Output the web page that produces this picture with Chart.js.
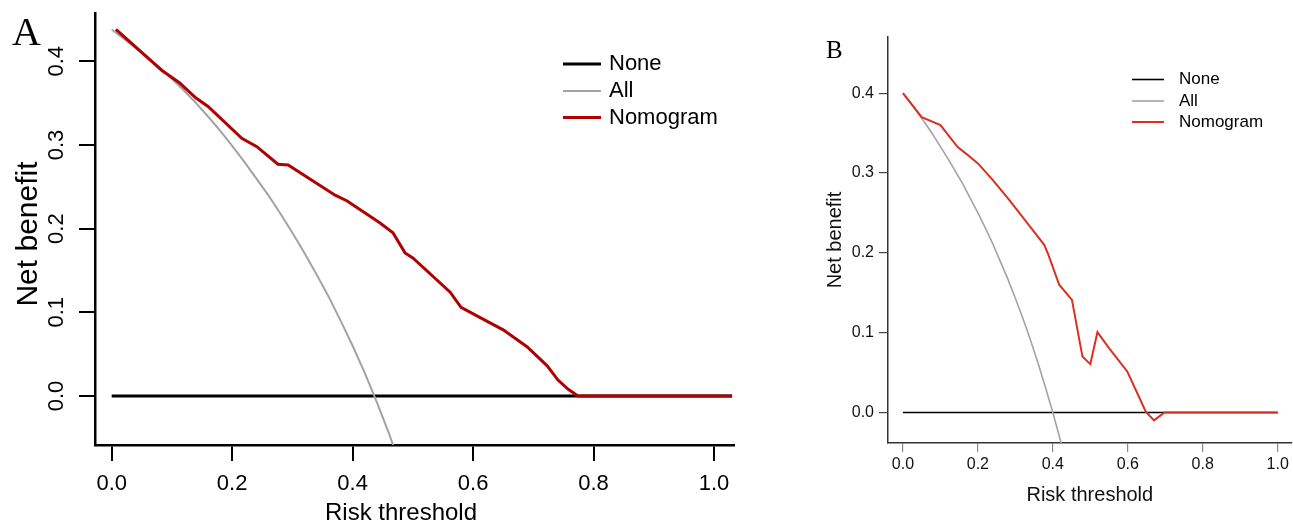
<!DOCTYPE html>
<html lang="en">
  <head>
    <meta charset="utf-8" />
    <script src="https://cdn.jsdelivr.net/npm/chart.js"></script>
    <title>Decision curves</title>
    <style>
      body { margin: 0; background: #fff; }
      canvas { position: absolute; top: 0; }
    </style>
  </head>
  <body>
    <canvas id="chartA" width="800" height="523" style="left:0"></canvas>
    <canvas id="chartB" width="493" height="523" style="left:800px"></canvas>
    <script>
      // tick labels and series names
      const xTicks = [0, 0.2, 0.4, 0.6, 0.8, 1.0];
      const xTickLabels = ['0.0', '0.2', '0.4', '0.6', '0.8', '1.0'];
      const yTicks = [0, 0.1, 0.2, 0.3, 0.4];
      const yTickLabels = ['0.0', '0.1', '0.2', '0.3', '0.4'];
      const seriesNames = ['None', 'All', 'Nomogram'];

      // panel A
      const noneAx = [0, 1.03];
      const noneAy = [0, 0];
      const allAx = [0, 0.02, 0.04, 0.06, 0.08, 0.10, 0.12, 0.14, 0.16, 0.18, 0.20, 0.22, 0.24,
                     0.26, 0.28, 0.30, 0.32, 0.34, 0.36, 0.38, 0.40, 0.42, 0.44, 0.46, 0.48];
      const allAy = [0.438, 0.427, 0.416, 0.404, 0.392, 0.379, 0.365, 0.350, 0.334, 0.317, 0.299, 0.280, 0.260,
                     0.240, 0.218, 0.195, 0.171, 0.1455, 0.119, 0.090, 0.060, 0.028, -0.007, -0.044, -0.085];
      const nomoAx = [0.007, 0.0835, 0.113, 0.140, 0.160, 0.216, 0.241, 0.276, 0.293, 0.371, 0.391, 0.445,
                      0.467, 0.487, 0.500, 0.562, 0.580, 0.611, 0.650, 0.690, 0.723, 0.741, 0.758, 0.774, 1.03];
      const nomoAy = [0.438, 0.389, 0.374, 0.356, 0.346, 0.308, 0.298, 0.277, 0.276, 0.240, 0.233, 0.207,
                      0.195, 0.171, 0.165, 0.124, 0.106, 0.094, 0.079, 0.0585, 0.036, 0.019, 0.008, 0, 0];

      // panel B
      const noneBx = [0, 1.0];
      const noneBy = [0, 0];
      const allBx = [0, 0.02, 0.04, 0.06, 0.08, 0.10, 0.12, 0.14, 0.16, 0.18, 0.20, 0.22,
                     0.24, 0.26, 0.28, 0.30, 0.32, 0.34, 0.36, 0.38, 0.40, 0.425];
      const allBy = [0.400, 0.388, 0.375, 0.362, 0.348, 0.333, 0.318, 0.302, 0.286, 0.268, 0.250, 0.231,
                     0.211, 0.189, 0.167, 0.143, 0.118, 0.091, 0.0625, 0.032, 0, -0.0435];
      const nomoBx = [0, 0.05, 0.10, 0.146, 0.169, 0.20, 0.24, 0.284, 0.347, 0.377, 0.387, 0.417,
                      0.451, 0.479, 0.50, 0.519, 0.55, 0.599, 0.648, 0.67, 0.698, 1.0];
      const nomoBy = [0.400, 0.370, 0.360, 0.3325, 0.324, 0.312, 0.291, 0.266, 0.228, 0.210, 0.199, 0.160,
                      0.141, 0.070, 0.0605, 0.1005, 0.0805, 0.051, 0.001, -0.010, 0, 0];

      const sans = "'Liberation Sans', Arial, sans-serif";
      const serif = "'Liberation Serif', 'Times New Roman', serif";

      function pts(xs, ys) {
        return xs.map((x, i) => ({ x: x, y: ys[i] }));
      }

      // letter, legend, and for A the rotated y tick labels and axis titles
      const panelDecor = {
        id: 'panelDecor',
        afterDraw(chart, args, o) {
          const ctx = chart.ctx;
          ctx.save();
          ctx.fillStyle = '#000';
          ctx.font = o.letterFont;
          ctx.textAlign = 'left';
          ctx.textBaseline = 'alphabetic';
          ctx.fillText(o.letter, o.letterX, o.letterY);

          chart.data.datasets.forEach((ds, i) => {
            const y = o.legendY[i];
            ctx.strokeStyle = ds.borderColor;
            ctx.lineWidth = ds.borderWidth;
            ctx.beginPath();
            ctx.moveTo(o.legendX1, y);
            ctx.lineTo(o.legendX2, y);
            ctx.stroke();
            ctx.font = o.legendFont;
            ctx.textBaseline = 'middle';
            ctx.fillStyle = '#000';
            ctx.fillText(ds.label, o.legendTextX, y);
          });

          if (o.rotatedY) {
            const sc = chart.scales.y;
            ctx.font = o.rotatedY.font;
            ctx.textAlign = 'center';
            ctx.textBaseline = 'alphabetic';
            yTicks.forEach((v, i) => {
              ctx.save();
              ctx.translate(o.rotatedY.x, sc.getPixelForValue(v));
              ctx.rotate(-Math.PI / 2);
              ctx.fillText(yTickLabels[i], 0, 0);
              ctx.restore();
            });
          }
          if (o.xTitle) {
            ctx.font = o.xTitle.font;
            ctx.textAlign = 'center';
            ctx.textBaseline = 'alphabetic';
            ctx.fillText(o.xTitle.text, o.xTitle.x, o.xTitle.y);
          }
          if (o.yTitle) {
            ctx.save();
            ctx.font = o.yTitle.font;
            ctx.textAlign = 'center';
            ctx.textBaseline = 'alphabetic';
            ctx.translate(o.yTitle.x, o.yTitle.y);
            ctx.rotate(-Math.PI / 2);
            ctx.fillText(o.yTitle.text, 0, 0);
            ctx.restore();
          }
          ctx.restore();
        }
      };

      // Panel A
      new Chart(document.getElementById('chartA'), {
        type: 'line',
        data: {
          datasets: [
            { label: seriesNames[0], data: pts(noneAx, noneAy), borderColor: '#000000', borderWidth: 3, order: 3 },
            { label: seriesNames[1], data: pts(allAx, allAy), borderColor: '#a3a3a3', borderWidth: 2, order: 2 },
            { label: seriesNames[2], data: pts(nomoAx, nomoAy), borderColor: '#b00000', borderWidth: 3, order: 1 }
          ]
        },
        options: {
          responsive: false,
          animation: false,
          devicePixelRatio: 1,
          elements: { point: { radius: 0 }, line: { tension: 0 } },
          layout: { padding: { left: 0, top: 13, right: 66, bottom: 0 } },
          scales: {
            x: {
              type: 'linear',
              min: -0.0277,
              max: 1.0332,
              afterBuildTicks: s => { s.ticks = xTicks.map(v => ({ value: v })); },
              afterFit: s => { s.height = 78; },
              ticks: {
                callback: (v, i) => xTickLabels[i],
                color: '#000',
                font: { family: sans, size: 22, lineHeight: 1 },
                padding: 11.5,
                maxRotation: 0
              },
              grid: { drawOnChartArea: false, drawTicks: true, tickLength: 16, color: '#000', lineWidth: 2 },
              border: { display: true, color: '#000', width: 2.5 },
              title: { display: false }
            },
            y: {
              type: 'linear',
              min: -0.0586,
              max: 0.4577,
              afterBuildTicks: s => { s.ticks = yTicks.map(v => ({ value: v })); },
              afterFit: s => { s.width = 95; },
              ticks: { display: false },
              grid: { drawOnChartArea: false, drawTicks: true, tickLength: 16, color: '#000', lineWidth: 2 },
              border: { display: true, color: '#000', width: 2.5 },
              title: { display: false }
            }
          },
          plugins: {
            legend: { display: false },
            tooltip: { enabled: false },
            panelDecor: {
              letter: 'A', letterFont: '40px ' + serif, letterX: 12, letterY: 45,
              legendX1: 563, legendX2: 601, legendTextX: 609, legendY: [64, 91, 117.5],
              legendFont: '22px ' + sans,
              rotatedY: { x: 63, font: '22px ' + sans },
              xTitle: { text: 'Risk threshold', x: 401, y: 520, font: '24px ' + sans },
              yTitle: { text: 'Net benefit', x: 37, y: 234, font: '30px ' + sans }
            }
          }
        },
        plugins: [panelDecor]
      });

      // Panel B
      new Chart(document.getElementById('chartB'), {
        type: 'line',
        data: {
          datasets: [
            { label: seriesNames[0], data: pts(noneBx, noneBy), borderColor: '#000000', borderWidth: 1.6, order: 3 },
            { label: seriesNames[1], data: pts(allBx, allBy), borderColor: '#a3a3a3', borderWidth: 1.6, order: 2 },
            { label: seriesNames[2], data: pts(nomoBx, nomoBy), borderColor: '#dc2f1f', borderWidth: 2, order: 1 }
          ]
        },
        options: {
          responsive: false,
          animation: false,
          devicePixelRatio: 1,
          elements: { point: { radius: 0 }, line: { tension: 0 } },
          layout: { padding: { left: 0, top: 37, right: 0, bottom: 0 } },
          scales: {
            x: {
              type: 'linear',
              min: -0.0399,
              max: 1.0373,
              afterBuildTicks: s => { s.ticks = xTicks.map(v => ({ value: v })); },
              afterFit: s => { s.height = 80; },
              ticks: {
                callback: (v, i) => xTickLabels[i],
                color: '#111',
                font: { family: sans, size: 16, lineHeight: 1 },
                padding: 4.2,
                maxRotation: 0
              },
              grid: { drawOnChartArea: false, drawTicks: true, tickLength: 9, color: '#8a8a8a', lineWidth: 1.2 },
              border: { display: true, color: '#333', width: 1.5 },
              title: {
                display: true,
                text: 'Risk threshold',
                color: '#111',
                font: { family: sans, size: 20, lineHeight: 1 },
                padding: { top: 0, bottom: 17.5 }
              }
            },
            y: {
              type: 'linear',
              min: -0.0383,
              max: 0.4704,
              afterBuildTicks: s => { s.ticks = yTicks.map(v => ({ value: v })); },
              afterFit: s => { s.width = 88; },
              ticks: {
                callback: (v, i) => yTickLabels[i],
                color: '#111',
                font: { family: sans, size: 16, lineHeight: 1 },
                padding: 5
              },
              grid: { drawOnChartArea: false, drawTicks: true, tickLength: 9, color: '#444', lineWidth: 1.2 },
              border: { display: true, color: '#333', width: 1.5 },
              title: {
                display: true,
                text: 'Net benefit',
                color: '#111',
                font: { family: sans, size: 20, lineHeight: 1 },
                padding: { top: 25, bottom: 0 }
              }
            }
          },
          plugins: {
            legend: { display: false },
            tooltip: { enabled: false },
            panelDecor: {
              letter: 'B', letterFont: '25px ' + serif, letterX: 26, letterY: 58,
              legendX1: 332, legendX2: 364, legendTextX: 379, legendY: [79.5, 101, 122],
              legendFont: '17px ' + sans
            }
          }
        },
        plugins: [panelDecor]
      });
    </script>
  </body>
</html>
